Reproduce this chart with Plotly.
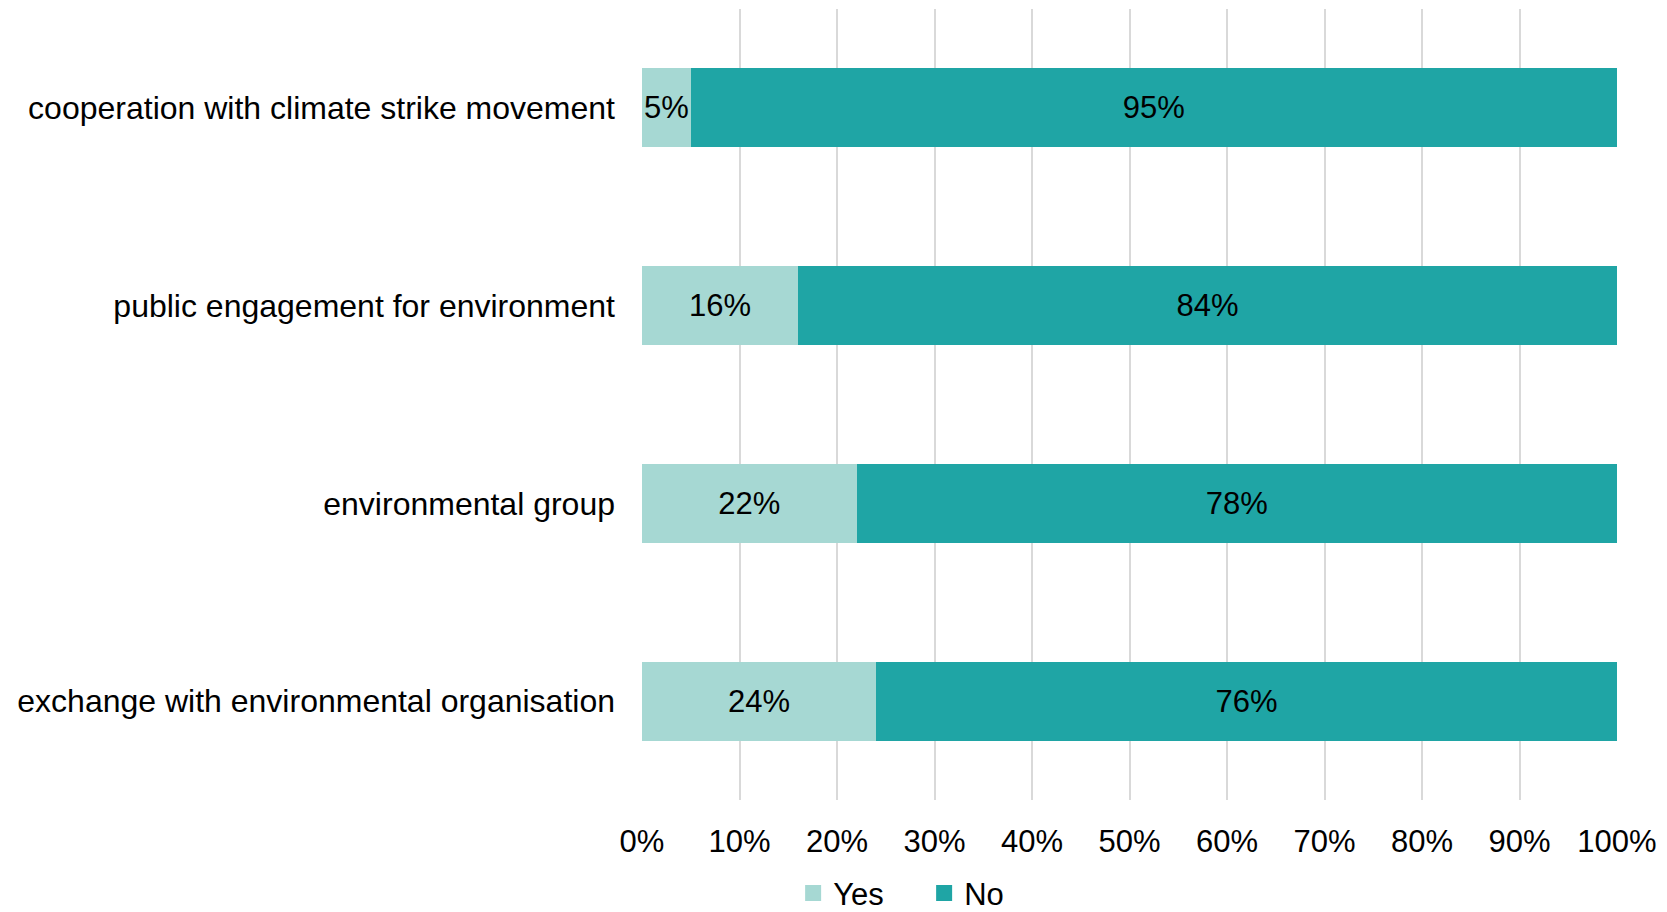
import plotly.graph_objects as go

categories = [
    "cooperation with climate strike movement",
    "public engagement for environment",
    "environmental group",
    "exchange with environmental organisation",
]
yes_values = [5, 16, 22, 24]
no_values = [95, 84, 78, 76]
series_names = ["Yes", "No"]
x_ticks = [0, 10, 20, 30, 40, 50, 60, 70, 80, 90, 100]
x_tick_labels = [f"{v}%" for v in x_ticks]

FONT = "Liberation Sans, Arial, sans-serif"
YES_COLOR = "#A6D8D3"
NO_COLOR = "#1FA5A5"

fig = go.Figure()
for name, vals, col in zip(series_names, [yes_values, no_values], [YES_COLOR, NO_COLOR]):
    fig.add_trace(go.Bar(
        y=categories, x=vals, name=name, orientation="h",
        marker=dict(color=col, line=dict(width=0)),
        text=[f"{v}%" for v in vals], textposition="inside",
        insidetextanchor="middle", textangle=0, constraintext="none",
        textfont=dict(family=FONT, size=31, color="#000000"),
        hoverinfo="skip", showlegend=False, legendgroup=name,
    ))
# legend entries with larger square swatches (no data points)
for name, col in zip(series_names, [YES_COLOR, NO_COLOR]):
    fig.add_trace(go.Scatter(
        x=[None], y=[None], mode="markers", name=name, legendgroup=name,
        marker=dict(symbol="square", size=16, color=col, line=dict(width=0)),
        hoverinfo="skip", showlegend=True,
    ))

fig.update_layout(
    width=1667, height=912,
    barmode="stack", bargap=0.6,
    paper_bgcolor="white", plot_bgcolor="white",
    margin=dict(l=642, r=50, t=9, b=112, autoexpand=False),
    font=dict(family=FONT, size=31, color="#000000"),
    uniformtext=dict(mode=False),
    legend=dict(
        orientation="h", x=0.155, xanchor="left", y=-0.118, yanchor="middle",
        font=dict(family=FONT, size=31, color="#000000"),
        traceorder="normal", itemsizing="trace", bgcolor="rgba(0,0,0,0)",
        entrywidth=86, entrywidthmode="pixels",
    ),
    showlegend=True,
)
fig.update_xaxes(
    range=[0, 100], tickvals=x_ticks, ticktext=x_tick_labels,
    showgrid=True, gridcolor="#D9D9D9", gridwidth=2,
    zeroline=False, showline=False, ticks="",
    ticklabelstandoff=20, automargin=False,
    tickfont=dict(family=FONT, size=31, color="#000000"),
    fixedrange=True,
)
fig.update_yaxes(
    categoryorder="array", categoryarray=categories, autorange="reversed",
    showgrid=False, zeroline=False, showline=False, ticks="",
    ticklabelstandoff=26, automargin=False,
    tickfont=dict(family=FONT, size=32, color="#000000"),
    fixedrange=True,
)

fig.write_html(
    "out.html",
    config={"displayModeBar": False},
    post_script="document.body.style.margin='0px';",
)
